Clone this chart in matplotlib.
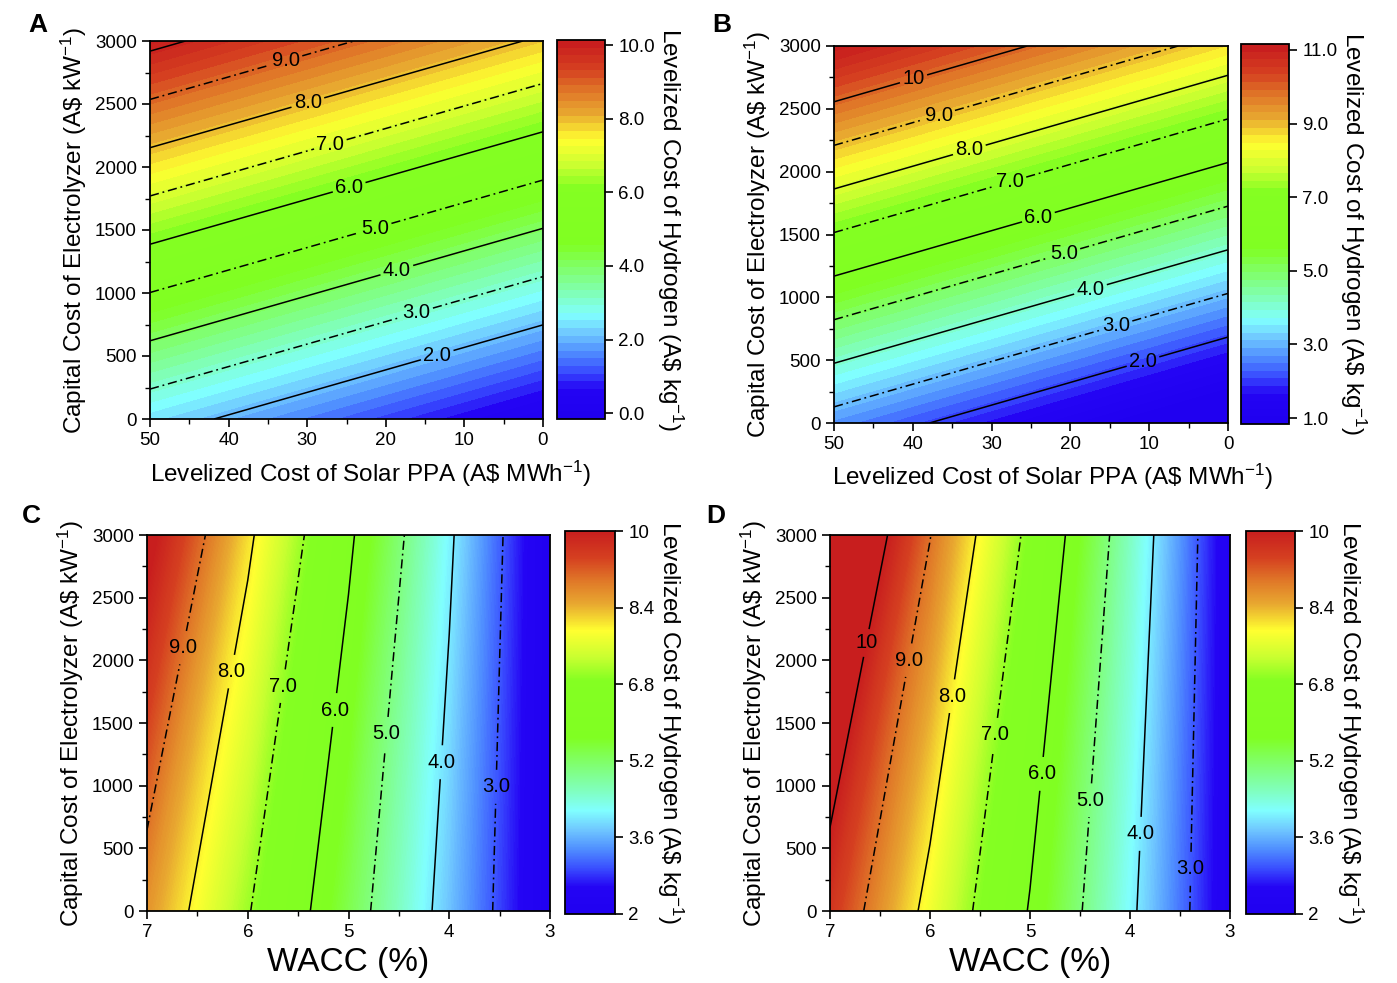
import numpy as np
import matplotlib
matplotlib.use("Agg")
import matplotlib.pyplot as plt
from matplotlib.colors import LinearSegmentedColormap, BoundaryNorm, Normalize
from matplotlib.cm import ScalarMappable

plt.rcParams['font.family'] = ['Liberation Sans', 'DejaVu Sans']
plt.rcParams['mathtext.fontset'] = 'custom'
plt.rcParams['mathtext.rm'] = 'Liberation Sans'
plt.rcParams['mathtext.it'] = 'Liberation Sans:italic'

# ---------------- data ----------------
capex = [0, 3000]                      # A$ kW-1
ppa = [50, 0]                          # A$ MWh-1
wacc = [7, 6, 5, 4, 3]                 # %

# rows: capex 0 / 3000 ; columns follow ppa or wacc
lcoh_A = [[2.38, 0.05],
          [10.21, 7.88]]
lcoh_B = [[2.63, 0.03],
          [11.28, 8.67]]
lcoh_C = [[8.67, 7.05, 5.36, 3.72, 2.05],
          [10.20, 8.13, 6.12, 4.10, 2.04]]
lcoh_D = [[9.62, 7.78, 5.95, 4.13, 2.24],
          [11.33, 9.02, 6.80, 4.54, 2.27]]

levels_A = [2, 3, 4, 5, 6, 7, 8, 9, 10]
levels_B = [2, 3, 4, 5, 6, 7, 8, 9, 10]
levels_C = [3, 4, 5, 6, 7, 8, 9]
levels_D = [3, 4, 5, 6, 7, 8, 9, 10]

cbar_ticks_A = [0.0, 2.0, 4.0, 6.0, 8.0, 10.0]
cbar_ticks_B = [1.0, 3.0, 5.0, 7.0, 9.0, 11.0]
cbar_ticks_CD = [2, 3.6, 5.2, 6.8, 8.4, 10]
cbar_labels_CD = ['2', '3.6', '5.2', '6.8', '8.4', '10']

# ---------------- style ----------------
cmap = LinearSegmentedColormap.from_list('origin_rainbow', [
    (0.00, '#2000F0'),
    (0.07, '#2404F4'),
    (0.12, '#3A50FF'),
    (0.17, '#5090FF'),
    (0.22, '#70C8FF'),
    (0.27, '#80FFFF'),
    (0.32, '#80FFC0'),
    (0.39, '#80FF70'),
    (0.46, '#80FF22'),
    (0.61, '#84FF22'),
    (0.67, '#C8FF30'),
    (0.74, '#FFFF30'),
    (0.81, '#E8A830'),
    (0.87, '#E07828'),
    (0.93, '#D54020'),
    (1.00, '#C81E1E')], N=512)
cmap.set_under('#2000F0')
cmap.set_over('#C81E1E')

fig = plt.figure(figsize=(13.97, 9.83), dpi=100)

def px_axes(x0, x1, y0, y1):
    W, H = 1397.0, 983.0
    return fig.add_axes([x0 / W, 1 - y1 / H, (x1 - x0) / W, (y1 - y0) / H])

ylab = 'Capital Cost of Electrolyzer (A\\$ kW$^{-1}$)'
cblab = 'Levelized Cost of Hydrogen (A\\$ kg$^{-1}$)'
dashdot = (0, (6, 2.5, 1.2, 2.5))

def fmt_label(v):
    return '10' if abs(v - 10) < 1e-6 else f'{v:.1f}'

def panel(ax, cax, x, z, vmin, vmax, nlev, banded, lines, label_pos,
          xlim, xticks, xminor, xlabel, xlab_size, xlab_xy, cticks,
          cticklabels, letter, letter_y):
    X, Y = np.meshgrid(x, capex)
    Z = np.array(z, dtype=float)
    fill_levels = np.linspace(vmin, vmax, nlev + 1)
    ax.contourf(X, Y, Z, levels=fill_levels, cmap=cmap, extend='both',
                antialiased=False)
    styles = ['-' if (lv % 2 == 0) else dashdot for lv in lines]
    cs = ax.contour(X, Y, Z, levels=lines, colors='black',
                    linewidths=1.1, linestyles=styles)
    ax.set_xlim(*xlim)
    ax.set_ylim(0, 3000)
    ax.set_xticks(xticks)
    ax.set_xticks(xminor, minor=True)
    ax.set_yticks(np.arange(0, 3001, 500))
    ax.set_yticks(np.arange(250, 3000, 500), minor=True)
    ax.tick_params(axis='both', which='major', direction='out', length=6,
                   width=1.2, labelsize=13.5, top=False, right=False)
    ax.tick_params(axis='both', which='minor', direction='out', length=3.5,
                   width=1.0, top=False, right=False)
    for s in ax.spines.values():
        s.set_linewidth(1.3)
    ax.set_ylabel(ylab, fontsize=17.5, labelpad=4)
    ax.set_xlabel(xlabel, fontsize=xlab_size)
    ax.xaxis.set_label_coords(*xlab_xy)
    # contour labels at positions given in axes fractions
    lv_list, pos = [], []
    for lv, (fx, fy) in label_pos:
        d = ax.transData.inverted().transform(ax.transAxes.transform((fx, fy)))
        lv_list.append(lv)
        pos.append((d[0], d[1]))
    ax.clabel(cs, levels=lv_list, manual=pos, inline=True, inline_spacing=3,
              fontsize=14.5, fmt=fmt_label, colors='black')
    for t in cs.labelTexts:
        t.set_rotation(0)
    # colorbar
    if banded:
        norm = BoundaryNorm(fill_levels, cmap.N)
    else:
        norm = Normalize(vmin, vmax)
    sm = ScalarMappable(norm=norm, cmap=cmap)
    cb = fig.colorbar(sm, cax=cax)
    cb.set_ticks(cticks)
    cb.set_ticklabels(cticklabels)
    cb.outline.set_linewidth(1.3)
    cax.tick_params(direction='out', length=6, width=1.2, labelsize=13.5)
    cax.minorticks_off()
    cax.set_ylabel(cblab, rotation=270, fontsize=17.5, labelpad=22)
    ax.text(-0.31, letter_y, letter, transform=ax.transAxes, fontsize=19,
            fontweight='bold', ha='left', va='baseline')

# Panel A
axA = px_axes(150, 543, 41, 419)
caxA = px_axes(557, 605, 40, 419)
panel(axA, caxA, ppa, lcoh_A, -0.16, 10.14, 50, True, levels_A,
      [(9, (.349, .937)), (8, (.402, .836)), (7, (.458, .730)),
       (6, (.506, .616)), (5, (.573, .505)), (4, (.628, .394)),
       (3, (.677, .286)), (2, (.730, .172))],
      (50, 0), [50, 40, 30, 20, 10, 0], np.arange(45, 0, -10),
      'Levelized Cost of Solar PPA (A\\$ MWh$^{-1}$)', 17.5, (0.562, -0.105),
      cbar_ticks_A, [f'{t:.1f}' for t in cbar_ticks_A], 'A', 1.024)

# Panel B
axB = px_axes(834, 1228, 46, 423)
caxB = px_axes(1241, 1289, 44, 424)
panel(axB, caxB, ppa, lcoh_B, 0.84, 11.16, 50, True, levels_B,
      [(10, (.2005, .918)), (9, (.264, .822)), (8, (.345, .719)),
       (7, (.449, .631)), (6, (.518, .549)), (5, (.584, .448)),
       (4, (.650, .358)), (3, (.716, .257)), (2, (.784, .164))],
      (50, 0), [50, 40, 30, 20, 10, 0], np.arange(45, 0, -10),
      'Levelized Cost of Solar PPA (A\\$ MWh$^{-1}$)', 17.5, (0.556, -0.102),
      cbar_ticks_B, [f'{t:.1f}' for t in cbar_ticks_B], 'B', 1.037)

# Panel C
axC = px_axes(147, 550, 535, 911)
caxC = px_axes(565, 615, 531, 914)
panel(axC, caxC, wacc, lcoh_C, 2.0, 10.0, 300, False, levels_C,
      [(9, (.082, .702)), (8, (.213, .636)), (7, (.337, .598)),
       (6, (.462, .535)), (5, (.596, .471)), (4, (.725, .396)),
       (3, (.878, .330))],
      (7, 3), [7, 6, 5, 4, 3], [6.5, 5.5, 4.5, 3.5],
      'WACC (%)', 24, (0.5, -0.095),
      cbar_ticks_CD, cbar_labels_CD, 'C', 1.032)

# Panel D
axD = px_axes(830, 1230, 535, 911)
caxD = px_axes(1246, 1295, 531, 914)
panel(axD, caxD, wacc, lcoh_D, 2.0, 10.0, 300, False, levels_D,
      [(10, (.090, .713)), (9, (.2075, .665)), (8, (.300, .572)),
       (7, (.420, .468)), (6, (.535, .364)), (5, (.670, .293)),
       (4, (.780, .205)), (3, (.9125, .112))],
      (7, 3), [7, 6, 5, 4, 3], [6.5, 5.5, 4.5, 3.5],
      'WACC (%)', 24, (0.5, -0.095),
      cbar_ticks_CD, cbar_labels_CD, 'D', 1.032)

fig.savefig('out.png', dpi=100)
